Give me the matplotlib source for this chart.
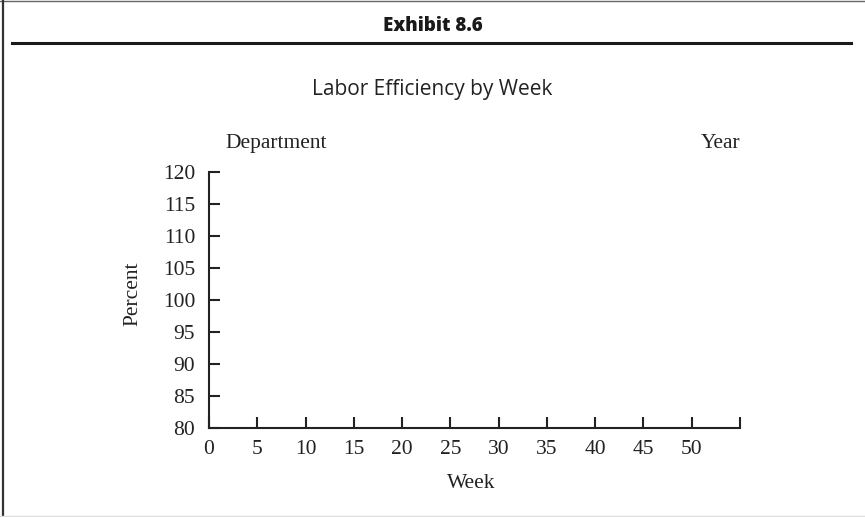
import matplotlib
matplotlib.use('Agg')
import matplotlib.pyplot as plt
from matplotlib.lines import Line2D

# chart is an empty template: only axes, ticks and labels
exhibit = 'Exhibit 8.6'
title = 'Labor Efficiency by Week'
x_ticks = [0, 5, 10, 15, 20, 25, 30, 35, 40, 45, 50, 55]
x_labels = ['0', '5', '10', '15', '20', '25', '30', '35', '40', '45', '50', '']
y_ticks = [80, 85, 90, 95, 100, 105, 110, 115, 120]

W, H = 865, 517
fig = plt.figure(figsize=(W / 100, H / 100), dpi=100)
fig.patch.set_facecolor('white')

def fx(px):
    return px / W

def fy(py):
    return 1 - py / H

# frame lines of the exhibit box
fig.add_artist(Line2D([fx(0), fx(865)], [fy(1), fy(1)], color='#666666', lw=1.0))
fig.add_artist(Line2D([fx(2.5), fx(2.5)], [fy(0), fy(517)], color='#333333', lw=1.6))
fig.add_artist(Line2D([fx(0), fx(865)], [fy(515.5), fy(515.5)], color='#dddddd', lw=1.0))
fig.add_artist(Line2D([fx(12), fx(851)], [fy(43), fy(43)], color='#1a1a1a', lw=2.2))

fig.text(0.5, fy(26), exhibit, ha='center', va='center', fontsize=13.5,
         fontweight='heavy', family='Open Sans', color='#1a1a1a')
fig.text(0.5, fy(89), title, ha='center', va='center', fontsize=15,
         family='Open Sans', color='#222222')

serif = 'Liberation Serif'
fs = 15.5
fig.text(fx(225), fy(143), 'Department', ha='left', va='center', fontsize=fs,
         family=serif, color='#222222')
fig.text(fx(740), fy(143), 'Year', ha='right', va='center', fontsize=fs,
         family=serif, color='#222222')

ax = fig.add_axes([fx(209), fy(428), fx(740) - fx(209), fy(172) - fy(428)])
ax.set_xlim(0, 55)
ax.set_ylim(80, 120)
for s in ['top', 'right']:
    ax.spines[s].set_visible(False)
for s in ['left', 'bottom']:
    ax.spines[s].set_linewidth(1.5)
    ax.spines[s].set_color('#222222')

ax.set_xticks(x_ticks)
ax.set_xticklabels(x_labels, family=serif, fontsize=fs, color='#222222')
ax.set_yticks(y_ticks)
ax.set_yticklabels([str(v) for v in y_ticks], family=serif, fontsize=fs, color='#222222')
ax.tick_params(axis='both', direction='in', length=8, width=1.5, color='#222222')
ax.tick_params(axis='x', pad=9)
ax.tick_params(axis='y', pad=10)

def ax_coords(px, py):
    return ((fx(px) - fx(209)) / (fx(740) - fx(209)),
            (fy(py) - fy(428)) / (fy(172) - fy(428)))

ax.set_xlabel('Week', family=serif, fontsize=fs, color='#222222', va='center')
ax.set_ylabel('Percent', family=serif, fontsize=fs, color='#222222', va='center')
ax.xaxis.set_label_coords(*ax_coords(471, 484))
ax.yaxis.set_label_coords(*ax_coords(133, 294))

fig.savefig('out.png', dpi=100)
